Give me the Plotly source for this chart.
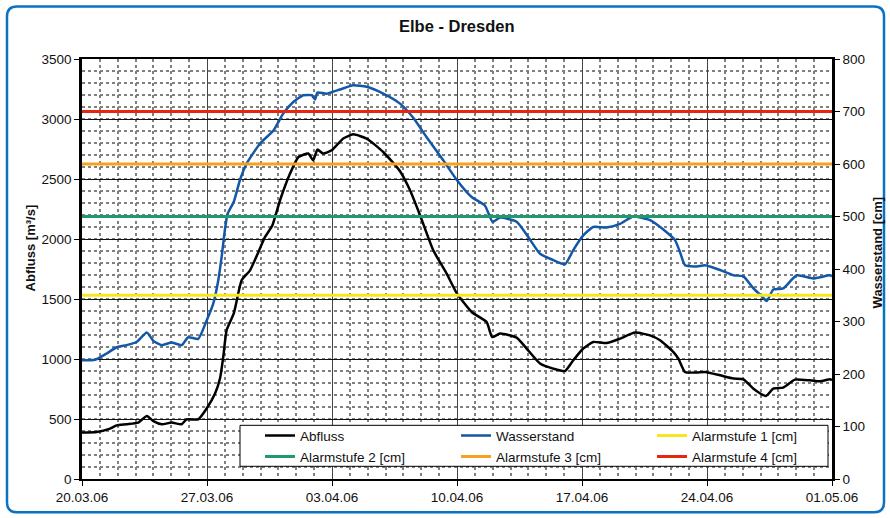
import pandas as pd
import plotly.graph_objects as go

# ---------------- data ----------------
start_date = "2006-03-20"
end_date = "2006-05-01"

# Abfluss [m3/s]  (x = days after 20.03.06)
abfluss_days = [0, 0.82, 1.57, 1.94, 2.5, 3.15, 3.63, 4.0, 4.47, 5.02, 5.58, 5.86, 6.51,
                6.98, 7.45, 7.73, 7.91, 8.1, 8.5, 8.94, 9.41, 9.88, 10.25, 10.65, 11.09,
                11.65, 12.12, 12.67, 12.95, 13.18, 13.5, 13.98, 14.63, 15.19, 15.94,
                16.87, 17.81, 18.37, 18.93, 19.67, 20.42, 21.0, 21.82, 22.66, 22.97,
                23.41, 24.34, 24.9, 25.65, 26.39, 27.05, 27.51, 28.07, 28.63, 29.38,
                30.13, 30.97, 31.81, 32.37, 33.12, 33.4, 33.77, 34.42, 34.89, 35.73,
                36.48, 37.04, 37.6, 38.3, 38.71, 39.27, 39.92, 40.77, 41.33, 41.89, 42.0]
abfluss_vals = [387, 392, 420, 447, 456, 470, 525, 483, 456, 470, 456, 497, 497,
                587, 712, 840, 1017, 1240, 1380, 1656, 1739, 1892, 2017, 2110, 2323,
                2545, 2683, 2712, 2656, 2745, 2712, 2739, 2837, 2872, 2837,
                2725, 2565, 2406, 2198, 1906, 1712, 1545, 1392, 1308, 1183,
                1212, 1178, 1087, 962, 920, 900, 989, 1087, 1142, 1133,
                1170, 1220, 1197, 1156, 1058, 1003, 892, 887, 892, 864,
                837, 831, 753, 692, 753, 762, 828, 822, 814, 831, 825]

# Wasserstand [cm]
wasser_days = [0, 0.73, 1.38, 1.94, 2.5, 3.06, 3.63, 4.0, 4.47, 5.02, 5.58, 5.95, 6.51,
               6.98, 7.35, 7.63, 7.82, 8.0, 8.15, 8.5, 8.85, 9.22, 9.97, 10.72, 11.27,
               11.83, 12.39, 12.86, 13.05, 13.18, 13.71, 14.45, 15.19, 15.94, 16.87,
               17.81, 18.55, 19.3, 20.23, 21.0, 21.82, 22.56, 22.99, 23.41, 24.34,
               24.99, 25.65, 26.39, 27.05, 27.51, 28.07, 28.63, 29.38, 30.13, 30.87,
               31.81, 32.74, 33.21, 33.49, 33.77, 34.42, 34.89, 35.73, 36.48, 37.04,
               37.6, 38.07, 38.35, 38.71, 39.27, 40.02, 40.95, 41.89, 42.0]
wasser_vals = [226, 227, 239, 251, 255, 261, 279, 263, 255, 260, 255, 270, 267,
               302, 334, 378, 423, 474, 505, 528, 570, 601, 639, 664, 696,
               718, 731, 731, 723, 736, 734, 742, 750, 747, 734,
               715, 688, 651, 607, 569, 537, 521, 490, 498, 490,
               461, 429, 417, 409, 436, 464, 480, 479, 486, 500,
               493, 470, 455, 432, 407, 405, 407, 398, 388, 386,
               363, 348, 339, 361, 363, 388, 382, 388, 386]

alarm_names = ["Alarmstufe 1 [cm]", "Alarmstufe 2 [cm]", "Alarmstufe 3 [cm]", "Alarmstufe 4 [cm]"]
alarm_levels = [350, 500, 600, 700]
alarm_colors = ["#F7E81B", "#1E9A6C", "#F5A21E", "#E8260E"]
# which legend row each alarm entry sits in (legend = row 1, legend2 = row 2)
alarm_legend = ["legend", "legend2", "legend2", "legend2"]

left_ticks = [0, 500, 1000, 1500, 2000, 2500, 3000, 3500]
right_ticks = [0, 100, 200, 300, 400, 500, 600, 700, 800]

# ---------------- build ----------------
base = pd.Timestamp(start_date)
abfluss_x = base + pd.to_timedelta(abfluss_days, unit="D")
wasser_x = base + pd.to_timedelta(wasser_days, unit="D")

FONT = "Liberation Sans, Arial, sans-serif"
fig = go.Figure()

fig.add_trace(go.Scatter(x=abfluss_x, y=abfluss_vals, name="Abfluss", mode="lines",
                         line=dict(color="#000000", width=2.5, shape="spline", smoothing=0.5),
                         yaxis="y", legend="legend"))
fig.add_trace(go.Scatter(x=wasser_x, y=wasser_vals, name="Wasserstand", mode="lines",
                         line=dict(color="#1257A8", width=2.5, shape="spline", smoothing=0.5),
                         yaxis="y2", legend="legend"))
for name, lvl, col, lg in zip(alarm_names, alarm_levels, alarm_colors, alarm_legend):
    fig.add_trace(go.Scatter(x=[start_date, end_date], y=[lvl, lvl], name=name, mode="lines",
                             line=dict(color=col, width=3), yaxis="y2", legend=lg))

# plot area in pixels
L, R, T, B = 82, 832, 58.5, 478.7
W, H = 890, 518


def px(xp):
    return (xp - L) / (R - L)


def py(yp):
    return (B - yp) / (B - T)


# rounded blue border
x0, x1, y0, y1, r = 7, 884, 6, 512, 10
path = (f"M {px(x0 + r)},{py(y0)} L {px(x1 - r)},{py(y0)} "
        f"Q {px(x1)},{py(y0)} {px(x1)},{py(y0 + r)} "
        f"L {px(x1)},{py(y1 - r)} Q {px(x1)},{py(y1)} {px(x1 - r)},{py(y1)} "
        f"L {px(x0 + r)},{py(y1)} Q {px(x0)},{py(y1)} {px(x0)},{py(y1 - r)} "
        f"L {px(x0)},{py(y0 + r)} Q {px(x0)},{py(y0)} {px(x0 + r)},{py(y0)} Z")

legend_common = dict(orientation="h", xanchor="left", yanchor="top",
                     bgcolor="rgba(0,0,0,0)", borderwidth=0,
                     entrywidth=151, entrywidthmode="pixels",
                     font=dict(family=FONT, size=13.5, color="#111111"), itemwidth=30)

fig.update_layout(
    width=W, height=H,
    margin=dict(l=L, r=W - R, t=T, b=H - B, autoexpand=False),
    paper_bgcolor="white", plot_bgcolor="white",
    font=dict(family=FONT, size=13.5, color="#111111"),
    showlegend=True,
    legend=dict(x=px(260), y=py(420), **legend_common),
    legend2=dict(x=px(260), y=py(441), **legend_common),
    shapes=[
        dict(type="rect", xref="paper", yref="paper", x0=px(240), x1=px(828),
             y0=py(466), y1=py(425), fillcolor="white", line=dict(color="#000000", width=1),
             layer="above"),
        dict(type="path", path=path, xref="paper", yref="paper",
             line=dict(color="#0A72C2", width=2.5), layer="above"),
    ],
    annotations=[
        dict(text="<b>Elbe - Dresden</b>", x=0.5, y=py(25), xref="paper", yref="paper",
             showarrow=False, font=dict(family=FONT, size=16.5, color="#111111"),
             xanchor="center", yanchor="middle"),
        dict(text="<b>Abfluss [m³/s]</b>", x=px(30), y=py(248), xref="paper", yref="paper",
             showarrow=False, textangle=-90, font=dict(family=FONT, size=13, color="#111111"),
             xanchor="center", yanchor="middle"),
        dict(text="<b>Wasserstand [cm]</b>", x=px(877), y=py(252), xref="paper", yref="paper",
             showarrow=False, textangle=-90, font=dict(family=FONT, size=13, color="#111111"),
             xanchor="center", yanchor="middle"),
    ],
    xaxis=dict(type="date", range=[start_date, end_date],
               tick0=start_date, dtick=7 * 86400000, tickformat="%d.%m.%y",
               ticks="outside", ticklen=5, tickcolor="#000000", tickwidth=1,
               showline=True, linecolor="#000000", linewidth=2, mirror=True,
               showgrid=True, gridcolor="#444444", gridwidth=1,
               minor=dict(dtick=86400000, tick0=start_date, showgrid=True,
                          gridcolor="#808080", griddash="3px,3px", gridwidth=1.5),
               zeroline=False, fixedrange=True),
    yaxis=dict(range=[0, 3500], tickvals=left_ticks, ticks="outside", ticklen=5,
               tickcolor="#000000", showline=True, linecolor="#000000", linewidth=2.5,
               showgrid=True, gridcolor="#111111", gridwidth=1,
               minor=dict(dtick=100, showgrid=True, gridcolor="#808080",
                          griddash="3px,3px", gridwidth=1.5),
               zeroline=False, fixedrange=True),
    yaxis2=dict(range=[0, 800], tickvals=right_ticks, overlaying="y", side="right",
                ticks="outside", ticklen=5, tickcolor="#000000",
                showline=True, linecolor="#000000", linewidth=2.5,
                showgrid=False, zeroline=False, fixedrange=True),
)

fig.write_html("out.html",
               config={"displayModeBar": False},
               post_script="document.body.style.margin='0';document.body.style.overflow='hidden';")
